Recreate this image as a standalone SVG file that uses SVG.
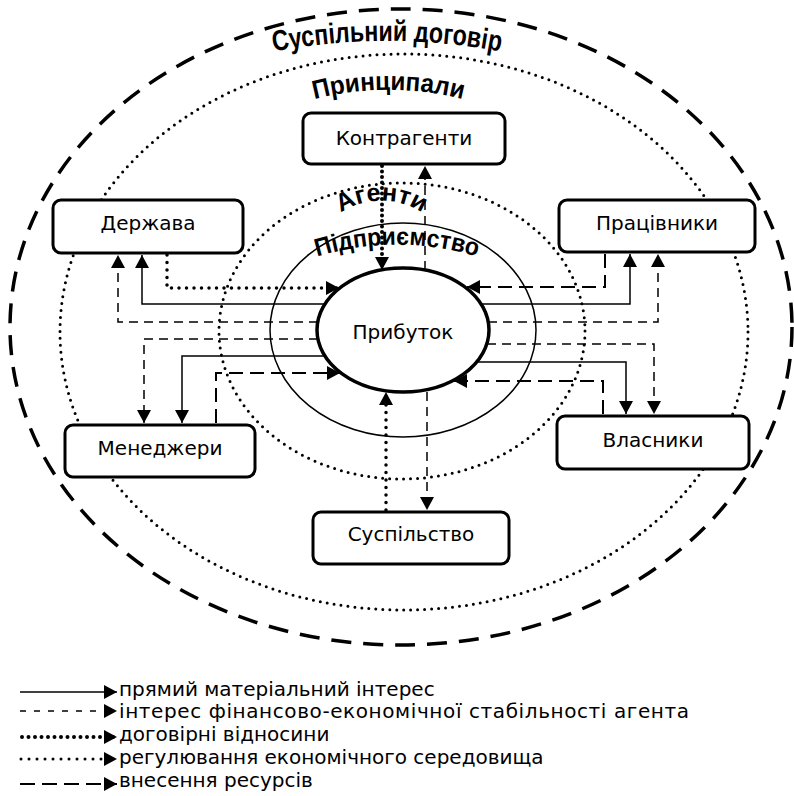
<svg xmlns="http://www.w3.org/2000/svg" width="794" height="796" viewBox="0 0 794 796">
<defs>
<marker id="ah" viewBox="0 0 13 14" refX="13" refY="7" markerWidth="13" markerHeight="14" markerUnits="userSpaceOnUse" orient="auto"><path d="M0,0 L13,7 L0,14 z" fill="#000"/></marker>
<path id="arc1" d="M272,52 A600,600 0 0,1 502,52"/>
<path id="arc2" d="M311,100 A300,300 0 0,1 466,100"/>
<path id="arc3" d="M336,216 A75,75 0 0,1 427,216"/>
<path id="arc4" d="M313,258 A273,273 0 0,1 481,258"/>
</defs>
<style>
.box{fill:#fff;stroke:#000;stroke-width:3}
.lbl{font-family:"DejaVu Sans","Noto Sans",sans-serif;font-size:20px;text-anchor:middle;fill:#000}
.leg{font-family:"DejaVu Sans","Noto Sans",sans-serif;font-size:20px;fill:#000}
.ttl{font-family:"Liberation Sans",Arial,sans-serif;font-weight:bold;fill:#000;text-anchor:middle}
.c{fill:none;stroke:#000;marker-end:url(#ah)}
.solid{stroke-width:1.5}
.dsh{stroke-width:1.5;stroke-dasharray:9 6}
.ldsh{stroke-width:2;stroke-dasharray:14 7}
.dot{stroke-width:4;stroke-dasharray:0 5.5;stroke-linecap:round}
.dot2{stroke-width:3.5;stroke-dasharray:0 7.5;stroke-linecap:round}
.ring{fill:none;stroke:#000}
</style>
<rect width="794" height="796" fill="#fff"/>

<g id="rings">
<ellipse class="ring" cx="401" cy="327" rx="391" ry="318" stroke-width="3.5" stroke-dasharray="20 12"/>
<ellipse class="ring" cx="404" cy="332" rx="344" ry="278" stroke-width="3" stroke-dasharray="0 7" stroke-linecap="round"/>
<ellipse class="ring" cx="402" cy="331" rx="183" ry="148" stroke-width="3" stroke-dasharray="0 7" stroke-linecap="round"/>
<ellipse class="ring" cx="403" cy="330" rx="133" ry="107" stroke-width="1.5"/>
</g>

<g id="connectors">
<path class="c dot2" d="M167,255 V288 H339"/>
<path class="c solid" d="M325,304 H142 V255"/>
<path class="c dsh" d="M318,322 H118 V255"/>
<path class="c dsh" d="M318,339 H144 V423"/>
<path class="c solid" d="M325,356 H182 V423"/>
<path class="c ldsh" d="M216,423 V373 H340"/>
<path class="c ldsh" d="M605,254 V287 H467"/>
<path class="c solid" d="M481,304 H630 V254"/>
<path class="c dsh" d="M488,322 H658 V254"/>
<path class="c dsh" d="M487,344 H654 V414"/>
<path class="c solid" d="M477,362 H626 V414"/>
<path class="c ldsh" d="M603,414 V381 H454"/>
<path class="c dot" d="M382,166 V270"/>
<path class="c dsh" d="M425,270 V166"/>
<path class="c dot2" d="M386,510 V392"/>
<path class="c dsh" d="M427,392 V510"/>
</g>

<g id="profit">
<ellipse cx="403" cy="330" rx="86" ry="62" fill="#fff" stroke="#000" stroke-width="3.5"/>
<text class="lbl" x="403" y="339">Прибуток</text>
</g>

<g id="kontragenty"><rect class="box" x="303" y="113" width="202" height="51" rx="8"/><text class="lbl" x="404" y="145">Контрагенти</text></g>
<g id="derzhava"><rect class="box" x="53" y="200" width="190" height="53" rx="8"/><text class="lbl" x="148" y="230">Держава</text></g>
<g id="pratsivnyky"><rect class="box" x="559" y="200" width="196" height="52" rx="8"/><text class="lbl" x="657" y="230">Працівники</text></g>
<g id="menedzhery"><rect class="box" x="65" y="425" width="190" height="52" rx="8"/><text class="lbl" x="160" y="455">Менеджери</text></g>
<g id="vlasnyky"><rect class="box" x="557" y="416" width="192" height="53" rx="8"/><text class="lbl" x="653" y="447">Власники</text></g>
<g id="suspilstvo"><rect class="box" x="313" y="512" width="196" height="52" rx="8"/><text class="lbl" x="411" y="541">Суспільство</text></g>

<g id="titles">
<text class="ttl" font-size="29"><textPath href="#arc1" startOffset="50%" textLength="228" lengthAdjust="spacingAndGlyphs">Суспільний договір</textPath></text>
<text class="ttl" font-size="26"><textPath href="#arc2" startOffset="50%" textLength="150" lengthAdjust="spacingAndGlyphs">Принципали</textPath></text>
<text class="ttl" font-size="25"><textPath href="#arc3" startOffset="50%" textLength="86" lengthAdjust="spacingAndGlyphs">Агенти</textPath></text>
<text class="ttl" font-size="25"><textPath href="#arc4" startOffset="50%" textLength="162" lengthAdjust="spacingAndGlyphs">Підприємство</textPath></text>
</g>

<g id="legend">
<path class="c solid" d="M20,692 H117"/>
<path class="c" stroke-width="1.5" stroke-dasharray="6 8" d="M20,711 H117"/>
<path class="c" stroke-width="4" stroke-dasharray="0 6.5" stroke-linecap="round" d="M22,737 H117"/>
<path class="c" stroke-width="3" stroke-dasharray="0 8" stroke-linecap="round" d="M21,759 H117"/>
<path class="c" stroke-width="2" stroke-dasharray="15 7" d="M20,784 H117"/>
<text class="leg" x="119" y="696">прямий матеріальний інтерес</text>
<text class="leg" x="119" y="718" textLength="570" lengthAdjust="spacing">інтерес фінансово-економічної стабільності агента</text>
<text class="leg" x="119" y="741">договірні відносини</text>
<text class="leg" x="119" y="764">регулювання економічного середовища</text>
<text class="leg" x="119" y="787">внесення ресурсів</text>
</g>
</svg>
